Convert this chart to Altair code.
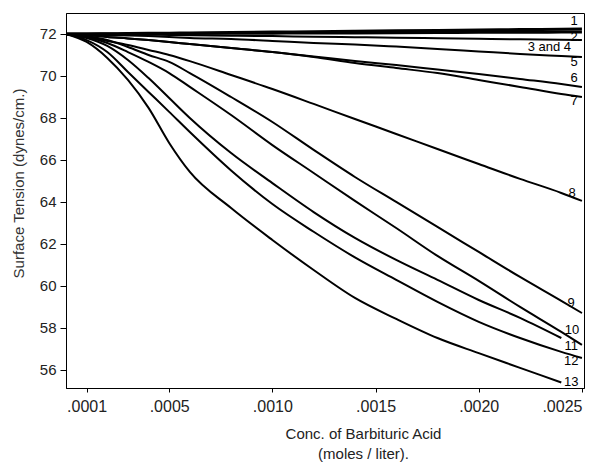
import altair as alt
import pandas as pd

# concentration grid (moles / liter)
CONC = [0.0, 0.0001, 0.0002, 0.0003, 0.0004, 0.0005, 0.0006, 0.0008, 0.0010,
        0.0012, 0.0014, 0.0016, 0.0018, 0.0020, 0.0022, 0.0024, 0.0025]

# surface tension (dynes/cm.) for each curve
CURVE_1 = [72.0, 72.0, 72.01, 72.02, 72.03, 72.04, 72.05, 72.07, 72.09, 72.11, 72.13, 72.15, 72.17, 72.19, 72.21, 72.23, 72.24]
CURVE_2 = [72.0, 72.0, 72.0, 72.01, 72.01, 72.02, 72.02, 72.03, 72.04, 72.05, 72.05, 72.06, 72.07, 72.08, 72.08, 72.09, 72.10]
CURVE_3_4 = [72.0, 72.0, 71.99, 71.98, 71.97, 71.95, 71.94, 71.92, 71.90, 71.87, 71.85, 71.82, 71.80, 71.77, 71.75, 71.73, 71.71]
CURVE_5 = [72.0, 71.98, 71.95, 71.93, 71.90, 71.86, 71.81, 71.76, 71.67, 71.57, 71.50, 71.40, 71.29, 71.17, 71.05, 70.95, 70.90]
CURVE_6 = [72.0, 71.95, 71.86, 71.79, 71.71, 71.62, 71.52, 71.33, 71.14, 70.93, 70.71, 70.52, 70.31, 70.10, 69.86, 69.62, 69.48]
CURVE_7 = [72.0, 71.95, 71.86, 71.79, 71.71, 71.62, 71.52, 71.33, 71.14, 70.90, 70.62, 70.38, 70.14, 69.81, 69.48, 69.14, 69.00]
CURVE_8 = [72.0, 71.86, 71.67, 71.48, 71.24, 71.00, 70.71, 70.05, 69.38, 68.67, 67.95, 67.24, 66.52, 65.81, 65.10, 64.43, 64.05]
CURVE_9 = [72.0, 71.90, 71.71, 71.38, 71.00, 70.67, 70.14, 69.00, 67.81, 66.48, 65.19, 64.00, 62.81, 61.62, 60.43, 59.29, 58.71]
CURVE_10 = [72.0, 71.86, 71.57, 71.14, 70.67, 70.14, 69.48, 68.14, 66.71, 65.38, 64.05, 62.76, 61.43, 60.24, 59.00, 57.81, 57.19]
CURVE_11 = [72.0, 71.81, 71.43, 70.76, 69.90, 68.95, 68.00, 66.33, 64.90, 63.52, 62.29, 61.24, 60.29, 59.33, 58.48, 57.52, None]
CURVE_12 = [72.0, 71.71, 71.14, 70.19, 69.24, 68.29, 67.33, 65.50, 63.90, 62.58, 61.36, 60.29, 59.24, 58.29, 57.52, 56.86, 56.57]
CURVE_13 = [72.0, 71.62, 70.86, 69.81, 68.48, 66.81, 65.43, 63.71, 62.19, 60.76, 59.43, 58.43, 57.52, 56.80, 56.10, 55.40, None]

SERIES_NAMES = ["1", "2", "3 and 4", "5", "6", "7", "8", "9", "10", "11", "12", "13"]
SERIES_VALUES = [CURVE_1, CURVE_2, CURVE_3_4, CURVE_5, CURVE_6, CURVE_7, CURVE_8,
                 CURVE_9, CURVE_10, CURVE_11, CURVE_12, CURVE_13]

# curve labels placed at the right end
LABEL_TEXT = ["1", "2", "3 and 4", "5", "6", "7", "8", "9", "10", "11", "12", "13"]
LABEL_X = [0.002462, 0.002462, 0.002342, 0.002462, 0.002462, 0.002462, 0.002452, 0.002448, 0.002452, 0.002448, 0.002448, 0.002448]
LABEL_Y = [72.62, 71.86, 71.36, 70.67, 69.90, 68.81, 64.43, 59.19, 57.92, 57.12, 56.43, 55.43]

X_TICKS = [0.0001, 0.0005, 0.0010, 0.0015, 0.0020, 0.0025]
Y_TICKS = [56, 58, 60, 62, 64, 66, 68, 70, 72]

rows = []
for name, vals in zip(SERIES_NAMES, SERIES_VALUES):
    for c, v in zip(CONC, vals):
        if v is not None:
            rows.append({"series": name, "conc": c, "tension": v,
                         "w": 3.0 if name in ("1", "2") else 2.0})
df = pd.DataFrame(rows)
labels = pd.DataFrame({"text": LABEL_TEXT, "conc": LABEL_X, "tension": LABEL_Y})

FONT = "Liberation Sans"

xscale = alt.Scale(domain=[0, 0.00251], nice=False, zero=False)
yscale = alt.Scale(domain=[55.14, 73], nice=False, zero=False)

lines = alt.Chart(df).mark_line(color="black", interpolate="monotone").encode(
    x=alt.X("conc:Q", scale=xscale,
            axis=alt.Axis(values=X_TICKS, grid=False,
                          labelExpr="substring(format(datum.value, '.4f'), 1)",
                          labelAlign={"condition": {"test": "datum.value > 0.0024", "value": "right"},
                                      "value": "center"},
                          title=["Conc. of Barbituric Acid", "(moles / liter)."],
                          titleX=297, titleY=38, titleBaseline="top",
                          titleLineHeight=20, titleFontSize=15,
                          titleFontWeight="normal", titleFont=FONT, titleColor="#222",
                          labelFont=FONT, labelFontSize=16, labelColor="#222",
                          labelPadding=6, tickSize=4, tickColor="black",
                          domainColor="black", labelFlush=False)),
    y=alt.Y("tension:Q", scale=yscale,
            axis=alt.Axis(values=Y_TICKS, grid=False,
                          title="Surface Tension (dynes/cm.)",
                          titleX=-48, titleY=170, titleBaseline="middle",
                          titleFontSize=15, titleFontWeight="normal",
                          titleFont=FONT, titleColor="#333",
                          labelFont=FONT, labelFontSize=15, labelColor="#222",
                          labelPadding=4, tickSize=6, tickColor="black",
                          domainColor="black")),
    detail="series:N",
    strokeWidth=alt.StrokeWidth("w:Q", scale=None, legend=None),
)

texts = alt.Chart(labels).mark_text(font=FONT, fontSize=13, color="black",
                                    align="center", baseline="middle").encode(
    x=alt.X("conc:Q", scale=xscale),
    y=alt.Y("tension:Q", scale=yscale),
    text="text:N",
)

chart = alt.layer(lines, texts).properties(
    width=518, height=375,
    autosize=alt.AutoSizeParams(type="none"),
    padding={"left": 58, "top": 5, "right": 1, "bottom": 75},
    background="white",
).configure_view(stroke="black", strokeWidth=1)

chart.save("out.html", embed_options={"renderer": "svg", "actions": False})
